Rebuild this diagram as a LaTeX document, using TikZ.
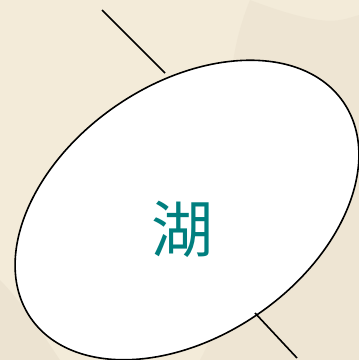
\documentclass[tikz,border=0pt]{standalone}
\usepackage{fontspec}
\newfontfamily\cjk{Noto Sans CJK SC}
\definecolor{bg}{HTML}{F3EBD9}
\definecolor{bgdark}{HTML}{EAE1CE}
\definecolor{lake}{HTML}{007F7F}
\tikzset{
  lakeshape/.style={draw=black, fill=white, line width=1.6pt},
  link/.style={draw=black, line width=1.6pt},
  lbl/.style={text=lake, font=\cjk\fontsize{62}{68}\selectfont}
}
\begin{document}
\begin{tikzpicture}[x=1pt,y=1pt]
\useasboundingbox (0,0) rectangle (359,-360);
\clip (0,0) rectangle (359,-360);
\fill[bg] (0,0) rectangle (359,-360);
\fill[bgdark, opacity=0.5] (250,0) .. controls (330,-30) and (340,-20) .. (359,-15) -- (359,-360) -- (200,-360) .. controls (260,-250) and (200,-120) .. (250,0) -- cycle;
\fill[bgdark, opacity=0.7] (0,-280) .. controls (20,-300) and (40,-330) .. (60,-360) -- (0,-360) -- cycle;
\coordinate (t1) at (102,-10);
\coordinate (t2) at (165,-73);
\coordinate (b1) at (255,-313);
\coordinate (b2) at (297,-358);
\draw[link] (t1) -- (t2);
\draw[lakeshape, rotate around={34.7:(187,-210)}] (187,-210) ellipse [x radius=190, y radius=126];
\draw[link] (b1) -- (b2);
\node[lbl] (lakelabel) at (183,-229) {湖};
\end{tikzpicture}
\end{document}
